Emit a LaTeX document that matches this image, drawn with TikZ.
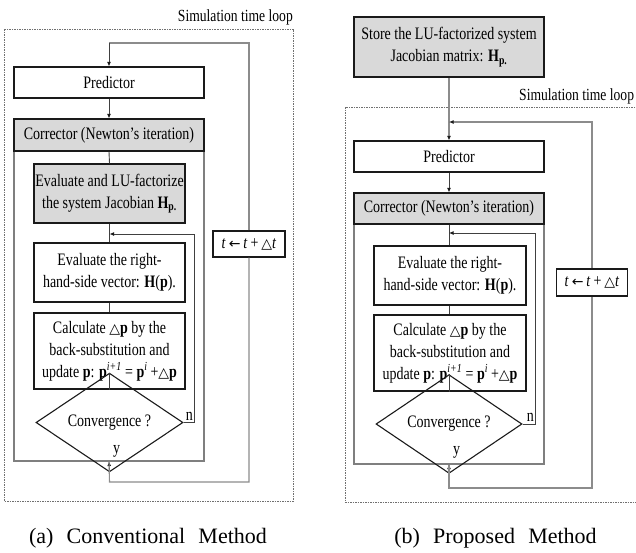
\documentclass[tikz,border=0pt]{standalone}
\usepackage{fontspec}
\setmainfont{Liberation Serif}[FakeStretch=0.8]
\newfontfamily\capfont{Liberation Serif}
\newfontfamily\symfont{DejaVu Sans}[Scale=0.8]
\usetikzlibrary{shapes.geometric,arrows.meta}
\definecolor{boxc}{HTML}{1A1A1A}
\definecolor{fillc}{HTML}{D9D9D9}
\definecolor{corrc}{HTML}{7F7F7F}
\definecolor{innerc}{HTML}{404040}
\definecolor{loopcol}{HTML}{8C8C8C}
\definecolor{dashc}{HTML}{707070}
\newcommand{\bodyfont}{\fontsize{17.5}{22}\selectfont}
\newcommand{\tri}{{\symfont △}}
\begin{document}
\begin{tikzpicture}[x=1pt,y=-1pt,
  box/.style={draw=boxc, line width=1.1pt, inner sep=0pt, align=center, font=\bodyfont},
  grayfill/.style={fill=fillc},
  outerbox/.style={draw=corrc, line width=1.1pt, inner sep=0pt},
  decision/.style={diamond, draw=boxc, line width=1.1pt, inner sep=0pt, font=\bodyfont},
  conn/.style={draw=innerc, line width=0.9pt},
  innerloop/.style={draw=innerc, line width=1pt},
  outerloop/.style={draw=loopcol, line width=1.1pt},
  tipA/.style={-{Latex[length=4.5pt,width=4pt,color=boxc,fill=boxc]}},
  dashbox/.style={draw=dashc, line width=0.7pt, dash pattern=on 1.5pt off 1pt},
  looplabel/.style={font=\fontsize{17}{19}\selectfont, inner sep=0pt},
  caption/.style={font=\capfont\fontsize{22}{24}\selectfont, inner sep=0pt},
  yn/.style={font=\bodyfont, inner sep=0pt}
]
\useasboundingbox (0,0) rectangle (636,552);

% ---------------- (a) Conventional ----------------
\draw[dashbox] (4,29) rectangle (293,501);
\node[looplabel, anchor=east] (slA) at (293,17) {Simulation time loop};

\node[box, minimum width=190pt, minimum height=31pt] (predA) at (109,82.5) {Predictor};
\node[outerbox, minimum width=190pt, minimum height=342pt] (corrA) at (109,290) {};
\node[box, grayfill, minimum width=190pt, minimum height=32pt] (headA) at (109,135) {Corrector (Newton’s iteration)};
\node[box, grayfill, minimum width=151pt, minimum height=59pt] (luA) at (109.5,193.5) {Evaluate and LU-factorize\\the system Jacobian \textbf{H}\textsubscript{\textbf{p.}}};
\node[box, minimum width=151pt, minimum height=59pt] (rhsA) at (109.5,272.5) {Evaluate the right-\\hand-side vector: \textbf{H}(\textbf{p}).};
\node[box, minimum width=151pt, minimum height=76pt] (calcA) at (109.5,351) {Calculate \tri\textbf{p} by the\\back-substitution and\\update \textbf{p}: \textbf{p}\textsuperscript{\textit{i+1}} = \textbf{p}\textsuperscript{\textit{i}}\,+\tri\textbf{p}};
\node[decision, minimum width=147pt, minimum height=47pt] (decA) at (109.5,422.5) {Convergence ?};
\node[box, minimum width=72pt, minimum height=26pt, font=\bodyfont] (tA) at (249,244) {\textit{t}\,{\symfont ←}\,\textit{t}\,+\,\tri\textit{t}};

\coordinate (jA) at (109.5,234);
\coordinate (topA) at (249,43);
\coordinate (cornA) at (109,43);
\coordinate (botA) at (109.5,482);

\draw[conn, tipA] (predA.south) -- (headA.north);
\draw[conn] (headA.south) -- (luA.north);
\draw[conn] (luA.south) -- (rhsA.north);
\draw[conn] (rhsA.south) -- (calcA.north);
\draw[conn] (calcA.south) -- (decA.north);
\draw[innerloop, tipA] (decA.east) -- (194,422.5) -- (194,234) -- (jA);
\draw[conn, tipA] (decA.south) -- (corrA.south);
\node[yn, anchor=south east] (nA) at (193,421) {n};
\node[yn, anchor=north west] (yA) at (113,445) {y};
\draw[outerloop] (corrA.south) -- (botA) -| (tA.south);
\draw[outerloop] (tA.north) -- (topA) -- (cornA);
\draw[conn, tipA] (cornA) -- (predA.north);

\node[caption] (capA) at (148,538) {(a)\hspace{0.6em}Conventional\hspace{0.6em}Method};

% ---------------- (b) Proposed ----------------
\node[box, grayfill, minimum width=190pt, minimum height=60pt] (storeB) at (449,47) {Store the LU-factorized system\\Jacobian matrix: \textbf{H}\textsubscript{\textbf{p.}}};
\draw[dashbox] (640,107) -- (345,107) -- (345,502) -- (640,502);
\node[looplabel, anchor=west] (slB) at (519,96) {Simulation time loop};

\node[box, minimum width=190pt, minimum height=31pt] (predB) at (449,156.5) {Predictor};
\node[outerbox, minimum width=190pt, minimum height=271pt] (corrB) at (449,328.5) {};
\node[box, grayfill, minimum width=190pt, minimum height=31pt] (headB) at (449,208.5) {Corrector (Newton’s iteration)};
\node[box, minimum width=152pt, minimum height=59pt] (rhsB) at (450,275.5) {Evaluate the right-\\hand-side vector: \textbf{H}(\textbf{p}).};
\node[box, minimum width=152pt, minimum height=76pt] (calcB) at (450,353) {Calculate \tri\textbf{p} by the\\back-substitution and\\update \textbf{p}: \textbf{p}\textsuperscript{\textit{i+1}} = \textbf{p}\textsuperscript{\textit{i}}\,+\tri\textbf{p}};
\node[decision, minimum width=146pt, minimum height=46pt] (decB) at (449,424) {Convergence ?};
\node[box, minimum width=71pt, minimum height=27pt, font=\bodyfont] (tB) at (592,282.5) {\textit{t}\,{\symfont ←}\,\textit{t}\,+\,\tri\textit{t}};

\coordinate (jB) at (449,233);
\coordinate (topB) at (449,122);
\coordinate (botB) at (449,488);

\draw[outerloop, tipA] (storeB.south) -- (predB.north);
\draw[outerloop, tipA] (tB.north) |- (topB);
\draw[conn, tipA] (predB.south) -- (headB.north);
\draw[conn] (headB.south) -- (rhsB.north -| headB.south);
\draw[conn] (rhsB.south -| decB.north) -- (calcB.north -| decB.north);
\draw[conn] (calcB.south -| decB.north) -- (decB.north);
\draw[innerloop, tipA] (decB.east) -- (535,424) -- (535,233) -- (jB);
\draw[conn, tipA] (decB.south) -- (corrB.south);
\node[yn, anchor=south east] (nB) at (534,422) {n};
\node[yn, anchor=north west] (yB) at (453,446) {y};
\draw[outerloop] (corrB.south) -- (botB) -| (tB.south);

\node[caption] (capB) at (495.5,538) {(b)\hspace{0.6em}Proposed\hspace{0.6em}Method};
\end{tikzpicture}
\end{document}
